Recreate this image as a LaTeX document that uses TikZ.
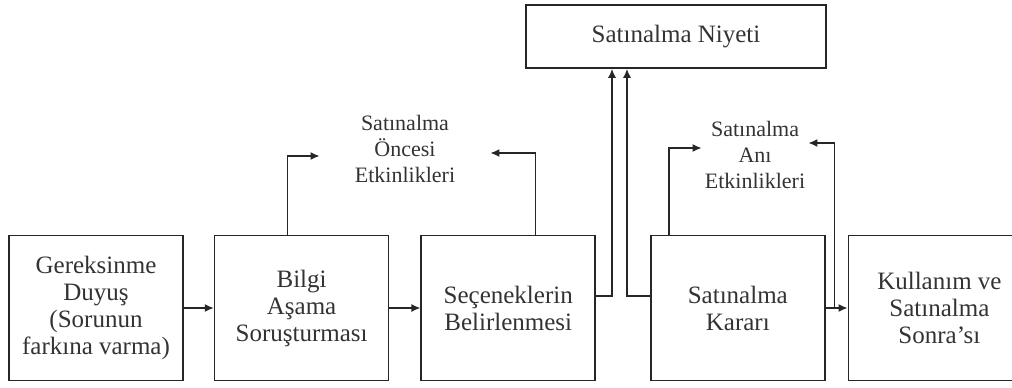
\documentclass[tikz,border=0pt]{standalone}
\usepackage{fontspec}
\setmainfont{Liberation Serif}
\usepackage{tikz}
\usetikzlibrary{arrows.meta,positioning}

\begin{document}
\begin{tikzpicture}[
 x=0.5pt,y=-0.5pt,
 box/.style={draw=black!85,line width=0.8pt,align=center,inner sep=0pt,minimum width=87pt,minimum height=72.5pt,font=\fontsize{12.5}{13.5}\selectfont,text=black!80},
 topbox/.style={box,minimum width=150pt,minimum height=31.5pt},
 lbl/.style={align=center,inner sep=0pt,font=\fontsize{11}{12.8}\selectfont,text=black!80},
 arr/.style={-{Latex[length=4.5pt,width=4pt]},line width=0.7pt,draw=black!85}
]
\useasboundingbox (0,0) rectangle (1012,387);
\node[box] (need) at (96,308) {Gereksinme\\Duyuş\\(Sorunun\\farkına varma)};
\node[box,right=15pt of need] (info) {Bilgi\\Aşama\\Soruşturması};
\node[box,right=15.5pt of info] (alt) {Seçeneklerin\\Belirlenmesi};
\node[box,right=27pt of alt] (decide) {Satınalma\\Kararı};
\node[box,right=11pt of decide,minimum width=91pt] (after) {Kullanım ve\\Satınalma\\Sonra'sı};
\node[topbox] (intent) at (676,36.5) {Satınalma Niyeti};
\node[lbl,minimum width=85pt] (prelbl) at (405,149) {Satınalma\\Öncesi\\Etkinlikleri};
\node[lbl,minimum width=53pt] (atlbl) at (755,155) {Satınalma\\Anı\\Etkinlikleri};
% main flow
\draw[arr] (need)--(info);
\draw[arr] (info)--(alt);
\draw[arr] (decide)-- coordinate[pos=0.4] (split) (after);
% up to intent
\draw[arr] ([yshift=6pt]alt.east) -| ([xshift=-32pt]intent.south);
\draw[arr] ([yshift=6pt]decide.west) -| ([xshift=-24.5pt]intent.south);
% side activities
\draw[arr] ([xshift=-7pt]info.north) |- ([yshift=-3.5pt]prelbl.west);
\draw[arr] ([xshift=13.5pt]alt.north) |- ([yshift=-2pt]prelbl.east);
\draw[arr] ([xshift=-34.5pt]decide.north) |- ([yshift=3.5pt]atlbl.west);
\draw[arr] (split) |- ([yshift=6pt]atlbl.east);
\end{tikzpicture}
\end{document}
